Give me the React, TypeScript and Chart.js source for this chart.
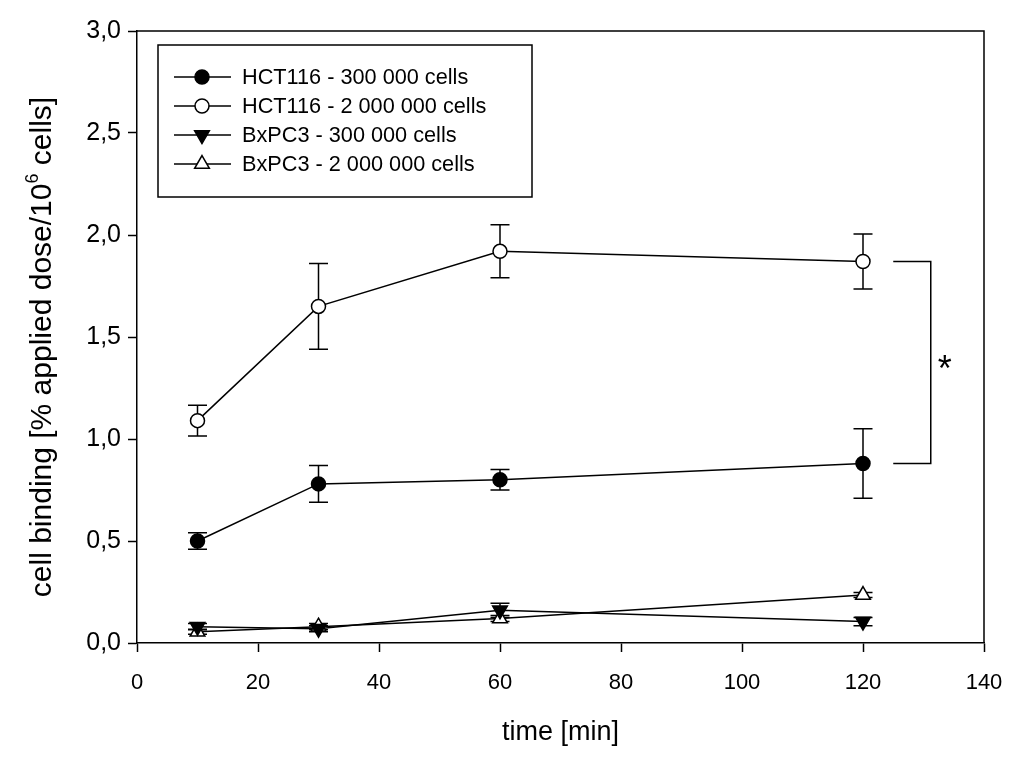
import React, { useEffect, useRef } from 'react';
import { Chart, registerables } from 'chart.js';

Chart.register(...registerables);

// ---- data ----
const times = [10, 30, 60, 120];
const seriesLabels = [
  'HCT116 - 300 000 cells',
  'HCT116 - 2 000 000 cells',
  'BxPC3 - 300 000 cells',
  'BxPC3 - 2 000 000 cells',
];
const hct300 = [0.5, 0.78, 0.8, 0.88];
const hct300Err = [0.04, 0.09, 0.05, 0.17];
const hct2m = [1.09, 1.65, 1.92, 1.87];
const hct2mErr = [0.075, 0.21, 0.13, 0.135];
const bx300 = [0.08, 0.07, 0.16, 0.105];
const bx300Err = [0.015, 0.015, 0.035, 0.02];
const bx2m = [0.055, 0.08, 0.12, 0.235];
const bx2mErr = [0.012, 0.015, 0.015, 0.012];
const xTicks = [0, 20, 40, 60, 80, 100, 120, 140];
const yTicks = [0, 0.5, 1.0, 1.5, 2.0, 2.5, 3.0];
const bracketX = [125, 131.2];
const starText = '*';

const seriesValues = [hct300, hct2m, bx300, bx2m];
const seriesErrors = [hct300Err, hct2mErr, bx300Err, bx2mErr];
const markerStyles = [
  { style: 'circle', fill: '#000000', radius: 7, rotation: 0 },
  { style: 'circle', fill: '#ffffff', radius: 7, rotation: 0 },
  { style: 'triangle', fill: '#000000', radius: 8.5, rotation: 180 },
  { style: 'triangle', fill: '#ffffff', radius: 8.5, rotation: 0 },
];

const FONT = '"Liberation Sans", Arial, sans-serif';

function drawMarker(ctx: CanvasRenderingContext2D, m: any, x: number, y: number) {
  ctx.save();
  ctx.fillStyle = m.fill;
  ctx.strokeStyle = '#000';
  ctx.lineWidth = 1.5;
  ctx.beginPath();
  if (m.style === 'circle') {
    ctx.arc(x, y, m.radius, 0, Math.PI * 2);
  } else {
    let rad = (m.rotation * Math.PI) / 180;
    for (let k = 0; k < 3; k++) {
      const px = x + Math.sin(rad) * m.radius;
      const py = y - Math.cos(rad) * m.radius;
      if (k === 0) ctx.moveTo(px, py);
      else ctx.lineTo(px, py);
      rad += (2 * Math.PI) / 3;
    }
    ctx.closePath();
  }
  ctx.fill();
  ctx.stroke();
  ctx.restore();
}

const errorBarPlugin = {
  id: 'errorBars',
  beforeDatasetsDraw(chart: any) {
    const { ctx, scales } = chart;
    const xs = scales.x;
    const ys = scales.y;
    ctx.save();
    ctx.strokeStyle = '#000';
    ctx.lineWidth = 1.5;
    seriesValues.forEach((vals, i) => {
      vals.forEach((v, j) => {
        const e = seriesErrors[i][j];
        const px = xs.getPixelForValue(times[j]);
        const top = ys.getPixelForValue(v + e);
        const bot = ys.getPixelForValue(v - e);
        ctx.beginPath();
        ctx.moveTo(px, top);
        ctx.lineTo(px, bot);
        ctx.moveTo(px - 9.5, top);
        ctx.lineTo(px + 9.5, top);
        ctx.moveTo(px - 9.5, bot);
        ctx.lineTo(px + 9.5, bot);
        ctx.stroke();
      });
    });
    ctx.restore();
  },
};

const decorPlugin = {
  id: 'decor',
  afterDraw(chart: any) {
    const { ctx, chartArea, scales } = chart;
    const xs = scales.x;
    const ys = scales.y;
    ctx.save();
    // frame top and right
    ctx.strokeStyle = '#000';
    ctx.lineWidth = 1.5;
    ctx.beginPath();
    ctx.moveTo(chartArea.left, chartArea.top);
    ctx.lineTo(chartArea.right, chartArea.top);
    ctx.lineTo(chartArea.right, chartArea.bottom);
    ctx.stroke();

    // significance bracket
    const bx0 = xs.getPixelForValue(bracketX[0]);
    const bx1 = xs.getPixelForValue(bracketX[1]);
    const byTop = ys.getPixelForValue(hct2m[3]);
    const byBot = ys.getPixelForValue(hct300[3]);
    ctx.beginPath();
    ctx.moveTo(bx0, byTop);
    ctx.lineTo(bx1, byTop);
    ctx.lineTo(bx1, byBot);
    ctx.lineTo(bx0, byBot);
    ctx.stroke();
    ctx.fillStyle = '#000';
    ctx.font = `36px ${FONT}`;
    ctx.textAlign = 'center';
    ctx.textBaseline = 'middle';
    ctx.fillText(starText, bx1 + 14, (byTop + byBot) / 2 + 9);

    // legend
    const lx = 158, ly = 45, lw = 374, lh = 152;
    ctx.lineWidth = 1.5;
    ctx.strokeRect(lx, ly, lw, lh);
    ctx.font = `21.7px ${FONT}`;
    ctx.textAlign = 'left';
    ctx.textBaseline = 'middle';
    seriesLabels.forEach((lab, i) => {
      const ry = 77 + i * 29;
      ctx.beginPath();
      ctx.moveTo(174, ry);
      ctx.lineTo(231, ry);
      ctx.stroke();
      drawMarker(ctx, markerStyles[i], 202, ry);
      ctx.fillStyle = '#000';
      ctx.fillText(lab, 242, ry + 1);
    });

    // y-axis title with superscript
    ctx.save();
    ctx.translate(40, 347);
    ctx.rotate(-Math.PI / 2);
    const mainSize = 30;
    const part1 = 'cell binding [% applied dose/10';
    const sup = '6';
    const part2 = ' cells]';
    ctx.font = `${mainSize}px ${FONT}`;
    const w1 = ctx.measureText(part1).width;
    const w3 = ctx.measureText(part2).width;
    ctx.font = `${mainSize * 0.6}px ${FONT}`;
    const w2 = ctx.measureText(sup).width;
    const total = w1 + w2 + w3;
    let cx = -total / 2;
    ctx.textAlign = 'left';
    ctx.textBaseline = 'alphabetic';
    ctx.fillStyle = '#000';
    ctx.font = `${mainSize}px ${FONT}`;
    ctx.fillText(part1, cx, 11);
    cx += w1;
    ctx.font = `${mainSize * 0.6}px ${FONT}`;
    ctx.fillText(sup, cx, -2);
    cx += w2;
    ctx.font = `${mainSize}px ${FONT}`;
    ctx.fillText(part2, cx, 11);
    ctx.restore();

    ctx.restore();
  },
};

export default function App() {
  const ref = useRef<HTMLCanvasElement | null>(null);

  useEffect(() => {
    if (!ref.current) return;
    const datasets = seriesValues.map((vals, i) => ({
      label: seriesLabels[i],
      data: vals.map((v, j) => ({ x: times[j], y: v })),
      borderColor: '#000000',
      borderWidth: 1.5,
      backgroundColor: markerStyles[i].fill,
      pointStyle: markerStyles[i].style as any,
      pointRadius: markerStyles[i].radius,
      pointRotation: markerStyles[i].rotation,
      pointBackgroundColor: markerStyles[i].fill,
      pointBorderColor: '#000000',
      pointBorderWidth: 1.5,
      tension: 0,
      fill: false,
    }));

    const chart = new Chart(ref.current, {
      type: 'line',
      data: { datasets },
      options: {
        animation: false,
        responsive: false,
        maintainAspectRatio: false,
        layout: { padding: { left: 0, top: 31, right: 40, bottom: 0 } },
        plugins: {
          legend: { display: false },
          tooltip: { enabled: false },
        },
        scales: {
          x: {
            type: 'linear',
            min: 0,
            max: 140,
            afterBuildTicks: (s: any) => {
              s.ticks = xTicks.map((v) => ({ value: v }));
            },
            afterFit: (s: any) => {
              s.height = 116;
            },
            ticks: {
              color: '#000',
              font: { family: FONT, size: 22 },
              padding: 18,
              maxRotation: 0,
              autoSkip: false,
            },
            grid: {
              drawOnChartArea: false,
              drawTicks: true,
              tickLength: 9,
              tickColor: '#000',
              tickWidth: 1.5,
            },
            border: { display: true, color: '#000', width: 1.5 },
            title: {
              display: true,
              text: 'time [min]',
              color: '#000',
              font: { family: FONT, size: 27 },
              padding: { top: 0, bottom: 10 },
            },
          },
          y: {
            type: 'linear',
            min: 0,
            max: 3,
            afterBuildTicks: (s: any) => {
              s.ticks = yTicks.map((v) => ({ value: v }));
            },
            afterFit: (s: any) => {
              s.width = 137;
            },
            ticks: {
              color: '#000',
              font: { family: FONT, size: 25 },
              padding: 7,
              autoSkip: false,
              callback: (v: any) => Number(v).toFixed(1).replace('.', ','),
            },
            grid: {
              drawOnChartArea: false,
              drawTicks: true,
              tickLength: 9,
              tickColor: '#000',
              tickWidth: 1.5,
            },
            border: { display: true, color: '#000', width: 1.5 },
            title: { display: false },
          },
        },
      },
      plugins: [errorBarPlugin, decorPlugin],
    });
    return () => chart.destroy();
  }, []);

  return (
    <div style={{ position: 'absolute', left: 0, top: 0, width: 1024, height: 759, background: '#fff' }}>
      <canvas ref={ref} width={1024} height={759} />
    </div>
  );
}
